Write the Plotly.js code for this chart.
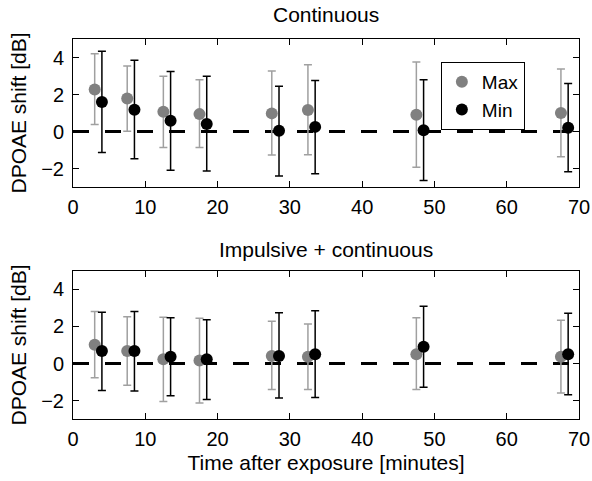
<!DOCTYPE html>
<html>
<head>
<meta charset="utf-8">
<script src="https://cdn.plot.ly/plotly-3.0.1.min.js"></script>
<style>html,body{margin:0;padding:0;background:#fff;}#chart{width:592px;height:481px;}</style>
</head>
<body>
<div id="chart"></div>
<script>
// Time positions (minutes), slightly offset for Max / Min
const xMax = [3, 7.5, 12.5, 17.5, 27.5, 32.5, 47.5, 67.5];
const xMin = [4, 8.5, 13.5, 18.5, 28.5, 33.5, 48.5, 68.5];

// Continuous panel
const contMax      = [2.27, 1.78, 1.07, 0.94, 0.98, 1.16, 0.91, 1.00];
const contMaxUpper = [4.20, 3.54, 2.98, 2.80, 3.27, 3.61, 3.76, 3.38];
const contMaxLower = [0.38, 0.02, -0.87, -0.87, -1.27, -1.25, -1.93, -1.36];
const contMin      = [1.60, 1.18, 0.58, 0.40, 0.04, 0.25, 0.07, 0.20];
const contMinUpper = [4.34, 3.85, 3.25, 2.98, 2.45, 2.76, 2.80, 2.60];
const contMinLower = [-1.14, -1.47, -2.09, -2.13, -2.40, -2.29, -2.65, -2.18];

// Impulsive + continuous panel
const impMax      = [1.01, 0.68, 0.23, 0.16, 0.40, 0.36, 0.50, 0.36];
const impMaxUpper = [2.81, 2.52, 2.50, 2.45, 2.29, 2.13, 2.47, 2.34];
const impMaxLower = [-0.77, -1.17, -2.05, -2.13, -1.41, -1.41, -1.41, -1.59];
const impMin      = [0.67, 0.67, 0.36, 0.23, 0.40, 0.50, 0.90, 0.50];
const impMinUpper = [2.77, 2.81, 2.47, 2.36, 2.74, 2.85, 3.10, 2.72];
const impMinLower = [-1.46, -1.48, -1.75, -1.95, -1.87, -1.84, -1.28, -1.69];

// Zero reference line
const refX = [0, 70];
const refY = [0, 0];

const xTicks = [0, 10, 20, 30, 40, 50, 60, 70];
const yTicks = [-2, 0, 2, 4];

const FONT = 'Liberation Sans, Arial, Helvetica, sans-serif';
const GRAY = '#808080';
const GRAY_BAR = '#a0a0a0';

function plus(up, c) { return up.map((u, i) => u - c[i]); }
function minus(lo, c) { return lo.map((l, i) => c[i] - l); }

function refLine(xa, ya) {
  return {x: refX, y: refY, xaxis: xa, yaxis: ya, mode: 'lines', showlegend: false,
    hoverinfo: 'skip', line: {color: '#000', width: 3, dash: '16px,16px'}};
}
function series(x, y, up, lo, name, color, barColor, xa, ya, show) {
  return {x: x, y: y, xaxis: xa, yaxis: ya, mode: 'markers', name: name, showlegend: show,
    marker: {color: color, size: 12},
    error_y: {type: 'data', symmetric: false, array: plus(up, y), arrayminus: minus(lo, y),
      color: barColor, thickness: 1.5, width: 4}};
}

const data = [
  refLine('x', 'y'),
  series(xMax, contMax, contMaxUpper, contMaxLower, 'Max', GRAY, GRAY_BAR, 'x', 'y', true),
  series(xMin, contMin, contMinUpper, contMinLower, 'Min', '#000', '#000', 'x', 'y', true),
  refLine('x2', 'y2'),
  series(xMax, impMax, impMaxUpper, impMaxLower, 'Max', GRAY, GRAY_BAR, 'x2', 'y2', false),
  series(xMin, impMin, impMinUpper, impMinLower, 'Min', '#000', '#000', 'x2', 'y2', false)
];

function xAxis(anchor, title) {
  const a = {anchor: anchor, range: [0, 70], tickvals: xTicks, ticks: 'inside', ticklen: 6,
    tickcolor: '#000', showline: true, linecolor: '#000', linewidth: 1, mirror: 'ticks',
    showgrid: false, zeroline: false, tickfont: {size: 20, color: '#000'}, ticklabelstandoff: 2};
  if (title) a.title = {text: title, font: {size: 21, color: '#000'}, standoff: 6};
  return a;
}
function yAxis(anchor, domain) {
  return {anchor: anchor, domain: domain, range: [-3, 5], tickvals: yTicks, ticks: 'inside',
    ticklen: 6, tickcolor: '#000', showline: true, linecolor: '#000', linewidth: 1,
    mirror: 'ticks', showgrid: false, zeroline: false, tickfont: {size: 20, color: '#000'},
    ticklabelstandoff: 4,
    title: {text: 'DPOAE shift [dB]', font: {size: 21, color: '#000'}, standoff: 8}};
}

const layout = {
  width: 592, height: 481,
  margin: {l: 73, r: 13, t: 39, b: 62},
  paper_bgcolor: '#fff', plot_bgcolor: '#fff',
  font: {family: FONT, color: '#000'},
  showlegend: true,
  xaxis: xAxis('y', null),
  yaxis: yAxis('x', [0.6105, 1]),
  xaxis2: xAxis('y2', 'Time after exposure [minutes]'),
  yaxis2: yAxis('x2', [0, 0.3895]),
  legend: {x: 0.727, y: 0.9395, xanchor: 'left', yanchor: 'top', bgcolor: '#fff',
    bordercolor: '#000', borderwidth: 1, font: {size: 19, color: '#000'}, entrywidth: 60},
  annotations: [
    {text: 'Continuous', xref: 'paper', yref: 'paper', x: 0.5, y: 1.064, xanchor: 'center',
      yanchor: 'middle', showarrow: false, font: {size: 21, color: '#000'}},
    {text: 'Impulsive + continuous', xref: 'paper', yref: 'paper', x: 0.5, y: 0.447,
      xanchor: 'center', yanchor: 'middle', showarrow: false, font: {size: 21, color: '#000'}}
  ]
};

Plotly.newPlot('chart', data, layout, {displayModeBar: false, staticPlot: true});
</script>
</body>
</html>
